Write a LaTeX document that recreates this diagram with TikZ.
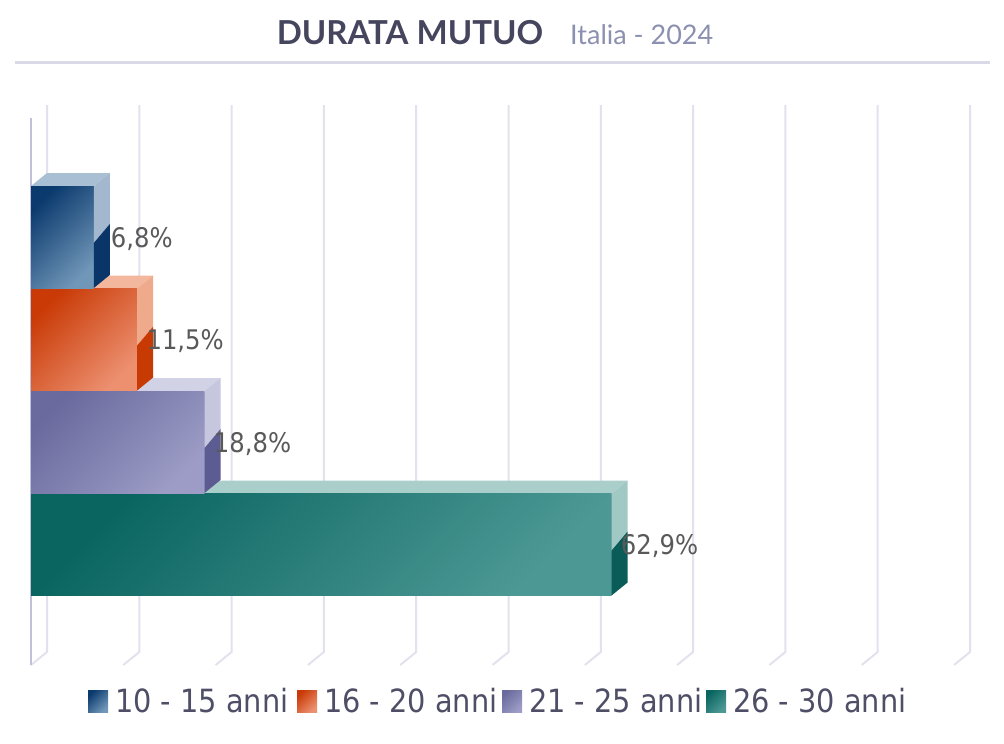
\documentclass[tikz,border=0pt]{standalone}
\usepackage{fontspec}
\setmainfont{DejaVu Sans}
\newfontfamily\condfont{DejaVu Sans Condensed}
\newfontfamily\titlefont{Lato}
\usepackage{tikz}

\definecolor{blu-dark}{HTML}{0B3A6E}
\definecolor{blu-light}{HTML}{7096B8}
\definecolor{blu-top}{HTML}{A9BFD4}
\definecolor{blu-side}{HTML}{A3B8CE}
\definecolor{blu-deep}{HTML}{0A3568}
\definecolor{arancio-dark}{HTML}{C93A06}
\definecolor{arancio-light}{HTML}{EC9070}
\definecolor{arancio-top}{HTML}{F3B79E}
\definecolor{arancio-side}{HTML}{EFA98B}
\definecolor{arancio-deep}{HTML}{C73A04}
\definecolor{lila-dark}{HTML}{6A6A9E}
\definecolor{lila-light}{HTML}{9C9CC6}
\definecolor{lila-top}{HTML}{D2D2E6}
\definecolor{lila-side}{HTML}{C6C6DE}
\definecolor{lila-deep}{HTML}{5C5C92}
\definecolor{teal-dark}{HTML}{0A6560}
\definecolor{teal-light}{HTML}{4C9895}
\definecolor{teal-top}{HTML}{AACFCB}
\definecolor{teal-side}{HTML}{A0C8C4}
\definecolor{teal-deep}{HTML}{095C57}
\definecolor{titlegrey}{HTML}{45465E}
\definecolor{subgrey}{HTML}{8C90B0}
\definecolor{keygrey}{HTML}{4E4E66}
\definecolor{gridgrey}{HTML}{E2E2EE}
\definecolor{axisgrey}{HTML}{C0C0DA}
\definecolor{rulegrey}{HTML}{D9D9E8}

\begin{document}
\begin{tikzpicture}[x=1pt,y=-1pt,
    gridline/.style={draw=gridgrey, line width=2pt},
    axisline/.style={draw=axisgrey, line width=2.5pt},
    titlerule/.style={draw=rulegrey, line width=3pt},
    valuelabel/.style={text=black!65, inner sep=0pt, font=\condfont\fontsize{27}{27}\selectfont},
    legendtext/.style={text=keygrey, inner sep=0pt, anchor=west, font=\condfont\fontsize{32}{32}\selectfont}]
    \useasboundingbox (0,0) rectangle (1004,744);
    % title
    \node [text=titlegrey, font=\titlefont\bfseries\fontsize{33}{33}\selectfont] (title) at (410,33) {DURATA MUTUO};
    \node [text=subgrey, anchor=west, inner sep=0pt, font=\titlefont\fontsize{27}{27}\selectfont] (subtitle) at (570,35) {Italia - 2024};
    \draw [titlerule] (15,62) -- (990,62);
    % grid and floor
    \foreach \k in {0,...,10}
    \draw [gridline] (47+92.3*\k,105) -- (47+92.3*\k,652) -- (31+92.3*\k,665);
    \draw [axisline] (31,118) -- (31,665);
    % bars, from the lowest up
    \foreach \n/\v/\c/\t in {4/62.9/teal/{62,9},3/18.8/lila/{18,8},2/11.5/arancio/{11,5},1/6.8/blu/{6,8}}{
    \pgfmathsetmacro\yt{186+102.5*(\n-1)}
    \pgfmathsetmacro\yb{\yt+102}
    \pgfmathsetmacro\xr{31+9.23*\v}
    \fill [\c-top] (31,\yt) -- (47,\yt-13) -- (\xr+16,\yt-13) -- (\xr,\yt) -- cycle;
    \shade [top color=\c-dark, bottom color=\c-light, shading angle=45] (31,\yt) rectangle (\xr,\yb);
    \fill [\c-side] (\xr,\yt) -- (\xr+16,\yt-13) -- (\xr+16,\yt+38) -- (\xr,\yt+57) -- cycle;
    \fill [\c-deep] (\xr,\yt+57) -- (\xr+16,\yt+38) -- (\xr+16,\yb-13) -- (\xr,\yb) -- cycle;
    \node [valuelabel] (val\n) at (\xr+48,\yt+53) {\t\%};
    }
    % legend
    \foreach \x/\c/\t [count=\i] in {88/blu/10 - 15 anni,297/arancio/16 - 20 anni,502/lila/21 - 25 anni,706/teal/26 - 30 anni}{
    \shade [top color=\c-dark, bottom color=\c-light, shading angle=45] (\x,690) rectangle ++(20,22);
    \node [legendtext] (key\i) at (\x+27,701) {\t};
    }
\end{tikzpicture}
\end{document}
